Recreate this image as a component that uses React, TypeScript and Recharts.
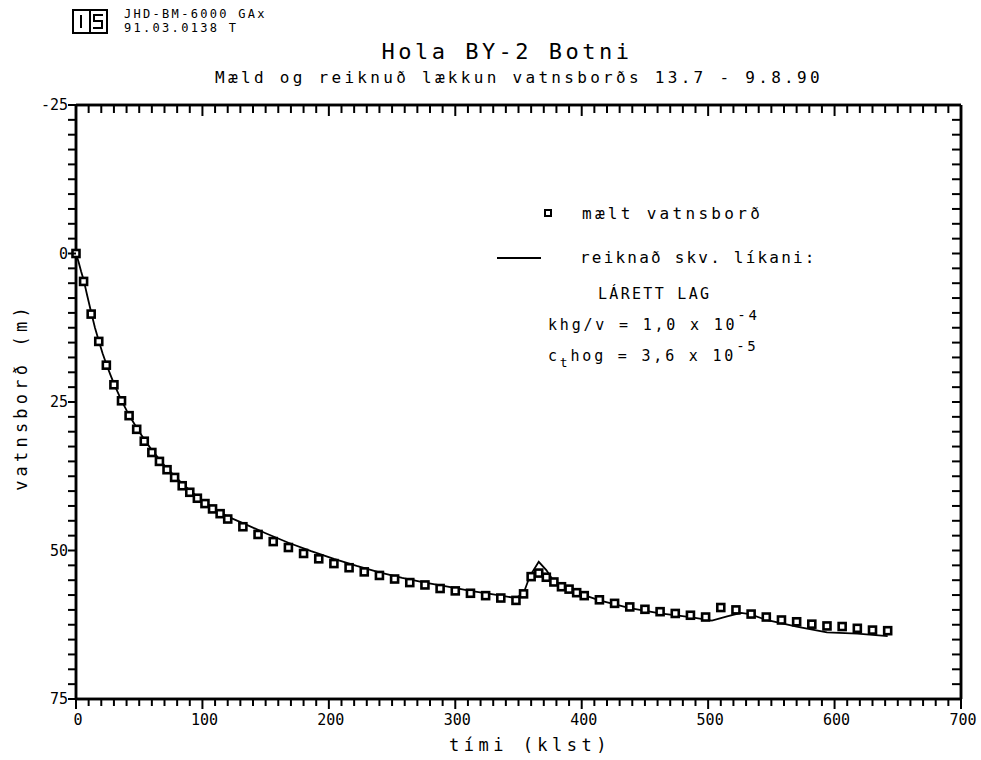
import { ComposedChart, Line, Scatter, XAxis, YAxis, ReferenceLine } from "recharts";

// measured water level (mælt vatnsborð)
const measuredTime = [
  0, 6, 12, 18, 24, 30, 36, 42, 48, 54, 60, 66, 72, 78, 84, 90, 96, 102, 108, 114, 120,
  132, 144, 156, 168, 180, 192, 204, 216, 228, 240, 252, 264, 276, 288, 300, 312, 324, 336, 348,
  354, 360, 366, 372, 378, 384, 390, 396, 402,
  414, 426, 438, 450, 462, 474, 486, 498, 510, 522, 534, 546, 558, 570, 582, 594, 606, 618, 630, 642,
];
const measuredLevel = [
  0, 4.7, 10.2, 14.8, 18.8, 22.1, 24.8, 27.3, 29.6, 31.6, 33.5, 35.0, 36.4, 37.7, 39.1, 40.2, 41.2, 42.1, 43.0, 43.8, 44.7,
  46.0, 47.3, 48.5, 49.5, 50.5, 51.4, 52.2, 52.9, 53.6, 54.2, 54.8, 55.4, 55.8, 56.4, 56.8, 57.2, 57.6, 58.0, 58.4,
  57.3, 54.4, 53.8, 54.5, 55.3, 56.1, 56.5, 57.1, 57.6,
  58.3, 58.9, 59.5, 59.9, 60.3, 60.6, 60.9, 61.2, 59.6, 60.0, 60.7, 61.2, 61.7, 62.0, 62.4, 62.7, 62.8, 63.1, 63.4, 63.5,
];

// model curve (reiknað skv. líkani)
const modelTime = [
  0, 2, 4, 6, 9, 12, 15, 18, 21, 24, 27, 30, 35, 40, 45, 50, 55, 60, 70, 80,
  90, 100, 110, 120, 132, 150, 168, 186, 204, 222, 240, 258, 276, 294, 312, 330, 348, 354, 359, 366,
  372, 378, 384, 390, 402, 414, 438, 462, 486, 503, 515, 526, 533, 546, 570, 594, 618, 642,
];
const modelLevel = [
  0, 1.4, 3.0, 4.4, 7.2, 9.9, 12.5, 14.7, 16.8, 18.6, 20.3, 21.9, 24.3, 26.4, 28.3, 30.0, 31.6, 33.1, 35.7, 37.9,
  39.9, 41.6, 43.1, 44.3, 45.4, 47.1, 48.7, 50.1, 51.4, 52.6, 53.7, 54.6, 55.4, 56.1, 56.8, 57.4, 58.0, 57.2, 54.3, 51.9,
  53.3, 55.2, 56.0, 56.6, 57.5, 58.4, 59.7, 60.6, 61.2, 61.8, 61.1, 60.5, 60.7, 61.7, 62.8, 63.8, 64.0, 64.4,
];

const xLabels = [0, 100, 200, 300, 400, 500, 600, 700];
const yLabels = [-25, 0, 25, 50, 75];

const measured = measuredTime.map((t, i) => ({ x: t, y: measuredLevel[i] }));
const model = modelTime.map((t, i) => ({ x: t, y: modelLevel[i] }));

const xTicks: number[] = [];
for (let v = 0; v <= 700; v += 10) xTicks.push(v);
const yTicks: number[] = [];
for (let v = -25; v <= 75; v += 2.5) yTicks.push(v);

const FONT = "'DejaVu Sans Mono', monospace";

const BottomTick = (props: any) => {
  const { x, y, payload } = props;
  const v = payload.value;
  const major = xLabels.includes(v);
  return (
    <g>
      <line x1={x} x2={x} y1={y} y2={y + (major ? 10 : 7)} stroke="#000" strokeWidth={2} />
      {major && (
        <text x={x + 2} y={y + 26} textAnchor="middle" fontFamily={FONT} fontSize={15} fill="#000">
          {v}
        </text>
      )}
    </g>
  );
};

// ticks on the top and right edges point into the plot
const TopTick = (props: any) => {
  const { x, y, payload } = props;
  const major = xLabels.includes(payload.value);
  return <line x1={x} x2={x} y1={y} y2={y + (major ? 11 : 8)} stroke="#000" strokeWidth={2} />;
};

const LeftTick = (props: any) => {
  const { x, y, payload } = props;
  const v = payload.value;
  const major = yLabels.includes(v);
  return (
    <g>
      <line x1={x - 8} x2={x} y1={y} y2={y} stroke="#000" strokeWidth={2} />
      {major && (
        <text x={x - 8} y={y + 5} textAnchor="end" fontFamily={FONT} fontSize={15} fill="#000">
          {v}
        </text>
      )}
    </g>
  );
};

const RightTick = (props: any) => {
  const { x, y } = props;
  return <line x1={x - 9} x2={x} y1={y} y2={y} stroke="#000" strokeWidth={2} />;
};

const Marker = (props: any) => {
  const { cx, cy } = props;
  return <rect x={cx - 3.5} y={cy - 3.5} width={7} height={7} fill="#fff" stroke="#000" strokeWidth={2.6} />;
};

const txt = { fontFamily: FONT, fill: "#000" };
const frame = { stroke: "#000", strokeWidth: 2.5 };

const App = () => {
  return (
    <div style={{ position: "absolute", left: 0, top: 0, width: 981, height: 760, background: "#fff" }}>
      <ComposedChart width={981} height={760} margin={{ top: 0, right: 0, bottom: 0, left: 0 }}>
        <XAxis
          dataKey="x"
          type="number"
          domain={[0, 700]}
          ticks={xTicks}
          interval={0}
          height={61}
          tickSize={0}
          tickMargin={0}
          tick={<BottomTick />}
          axisLine={frame}
        />
        <XAxis
          xAxisId="top"
          orientation="top"
          dataKey="x"
          type="number"
          domain={[0, 700]}
          ticks={xTicks}
          interval={0}
          height={105}
          tickSize={0}
          tickMargin={0}
          tick={<TopTick />}
          axisLine={frame}
        />
        <YAxis
          dataKey="y"
          type="number"
          domain={[-25, 75]}
          reversed
          ticks={yTicks}
          interval={0}
          width={76}
          tickSize={0}
          tickMargin={0}
          tick={<LeftTick />}
          axisLine={frame}
        />
        <YAxis
          yAxisId="right"
          orientation="right"
          dataKey="y"
          type="number"
          domain={[-25, 75]}
          reversed
          ticks={yTicks}
          interval={0}
          width={20}
          tickSize={0}
          tickMargin={0}
          tick={<RightTick />}
          axisLine={frame}
        />
        <ReferenceLine y={-25} {...frame} ifOverflow="visible" />
        <ReferenceLine y={75} {...frame} ifOverflow="visible" />
        <ReferenceLine x={0} {...frame} ifOverflow="visible" />
        <ReferenceLine x={700} {...frame} ifOverflow="visible" />
        <Line
          data={model}
          dataKey="y"
          type="linear"
          stroke="#000"
          strokeWidth={1.8}
          dot={false}
          isAnimationActive={false}
        />
        {/* same domains as bottom/left, so the markers line up; binds the top/right axes */}
        <Scatter
          data={measured}
          dataKey="y"
          xAxisId="top"
          yAxisId="right"
          shape={<Marker />}
          isAnimationActive={false}
        />
      </ComposedChart>

      <svg width={981} height={760} style={{ position: "absolute", left: 0, top: 0, pointerEvents: "none" }}>
        {/* logo */}
        <rect x={73} y={10} width={34} height={23} fill="none" stroke="#000" strokeWidth={2} />
        <line x1={90} x2={90} y1={10} y2={33} stroke="#000" strokeWidth={2} />
        <line x1={81} x2={81} y1={15} y2={28} stroke="#000" strokeWidth={2} />
        <polyline points="103,15 94,15 94,21 102,21 102,28 93,28" fill="none" stroke="#000" strokeWidth={2} />
        <text x={124} y={18} fontSize={12} letterSpacing={2.3} {...txt}>JHD-BM-6000 GAx</text>
        <text x={124} y={32} fontSize={12} letterSpacing={2.3} {...txt}>91.03.0138  T</text>

        <text x={507} y={59} fontSize={22} letterSpacing={3.5} textAnchor="middle" {...txt}>Hola BY-2 Botni</text>
        <text x={519} y={83} fontSize={16} letterSpacing={3.3} textAnchor="middle" {...txt}>
          Mæld og reiknuð lækkun vatnsborðs 13.7 - 9.8.90
        </text>

        <text x={530} y={751} fontSize={17} letterSpacing={4.5} textAnchor="middle" {...txt}>tími (klst)</text>
        <text
          x={0}
          y={0}
          fontSize={17}
          letterSpacing={4.2}
          textAnchor="middle"
          transform="translate(27,397) rotate(-90)"
          {...txt}
        >
          vatnsborð (m)
        </text>

        {/* legend */}
        <rect x={545} y={210} width={6} height={6} fill="#fff" stroke="#000" strokeWidth={2} />
        <text x={582} y={219} fontSize={16} letterSpacing={3.3} {...txt}>mælt vatnsborð</text>
        <line x1={497} x2={541} y1={258} y2={258} stroke="#000" strokeWidth={1.8} />
        <text x={580} y={263} fontSize={16} letterSpacing={2.2} {...txt}>reiknað skv. líkani:</text>
        <text x={598} y={299} fontSize={15} letterSpacing={2.3} {...txt}>LÁRETT LAG</text>
        <text x={548} y={330} fontSize={15} letterSpacing={2.8} {...txt}>
          khg/v = 1,0 x 10
          <tspan dy={-10} fontSize={14}>-4</tspan>
        </text>
        <text x={548} y={361} fontSize={15} letterSpacing={2.8} {...txt}>
          c
          <tspan dy={6} fontSize={13}>t</tspan>
          <tspan dy={-6}>hog = 3,6 x 10</tspan>
          <tspan dy={-10} fontSize={14}>-5</tspan>
        </text>
      </svg>
    </div>
  );
};

export default App;
